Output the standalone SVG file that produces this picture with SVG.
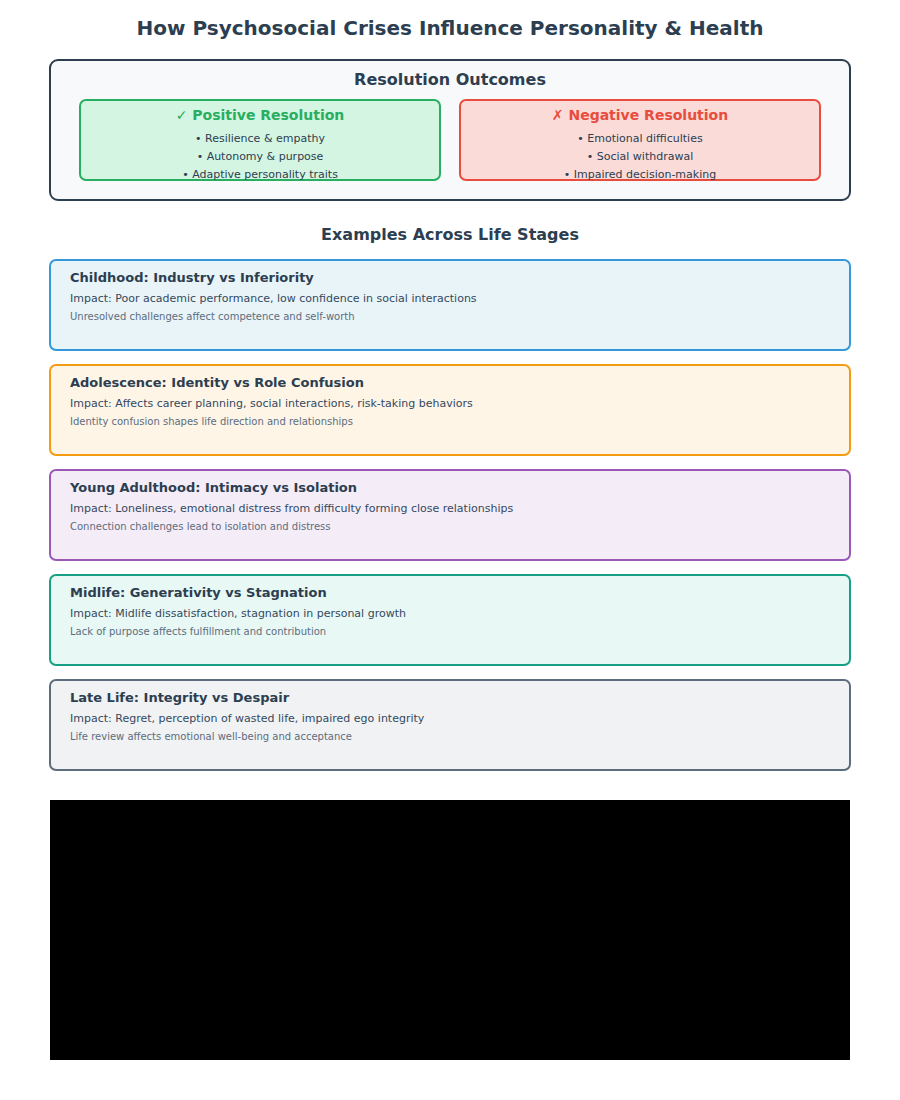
<svg xmlns="http://www.w3.org/2000/svg" width="900" height="1100" viewBox="0 0 900 1100">
<style>
text{font-family:"DejaVu Sans",sans-serif;fill:#2c3e50}
.h{font-weight:bold;font-size:16px;text-anchor:middle}
.b{font-size:11px;text-anchor:middle}
.t{font-weight:bold;font-size:13px}
.i{font-size:11px;fill:#34495e}
.n{font-size:10px;fill:#5d6d7e}
</style>
<rect width="900" height="1100" fill="#fff"/>
<text x="450" y="35" class="h" style="font-size:20px">How Psychosocial Crises Influence Personality &amp; Health</text>
<g id="outcomes">
<rect x="50" y="60" width="800" height="140" rx="8" fill="#f8f9fa" stroke="#2c3e50" stroke-width="2"/>
<text x="450" y="85" class="h">Resolution Outcomes</text>
</g>
<g id="positive">
<rect x="80" y="100" width="360" height="80" rx="6" fill="#d5f5e3" stroke="#27ae60" stroke-width="2"/>
<text x="260" y="120" class="h" style="font-size:14px;fill:#27ae60">✓ Positive Resolution</text>
<text x="260" y="142" class="b">• Resilience &amp; empathy</text>
<text x="260" y="160" class="b">• Autonomy &amp; purpose</text>
<text x="260" y="178" class="b">• Adaptive personality traits</text>
</g>
<g id="negative">
<rect x="460" y="100" width="360" height="80" rx="6" fill="#fadbd8" stroke="#e74c3c" stroke-width="2"/>
<text x="640" y="120" class="h" style="font-size:14px;fill:#e74c3c">✗ Negative Resolution</text>
<text x="640" y="142" class="b">• Emotional difficulties</text>
<text x="640" y="160" class="b">• Social withdrawal</text>
<text x="640" y="178" class="b">• Impaired decision-making</text>
</g>
<text x="450" y="240" class="h">Examples Across Life Stages</text>
<g id="childhood">
<rect x="50" y="260" width="800" height="90" rx="6" fill="#e8f4f8" stroke="#3498db" stroke-width="2"/>
<text x="70" y="282" class="t">Childhood: Industry vs Inferiority</text>
<text x="70" y="302" class="i">Impact: Poor academic performance, low confidence in social interactions</text>
<text x="70" y="320" class="n">Unresolved challenges affect competence and self-worth</text>
</g>
<g id="adolescence">
<rect x="50" y="365" width="800" height="90" rx="6" fill="#fef5e7" stroke="#f39c12" stroke-width="2"/>
<text x="70" y="387" class="t">Adolescence: Identity vs Role Confusion</text>
<text x="70" y="407" class="i">Impact: Affects career planning, social interactions, risk-taking behaviors</text>
<text x="70" y="425" class="n">Identity confusion shapes life direction and relationships</text>
</g>
<g id="young">
<rect x="50" y="470" width="800" height="90" rx="6" fill="#f4ecf7" stroke="#9b59b6" stroke-width="2"/>
<text x="70" y="492" class="t">Young Adulthood: Intimacy vs Isolation</text>
<text x="70" y="512" class="i">Impact: Loneliness, emotional distress from difficulty forming close relationships</text>
<text x="70" y="530" class="n">Connection challenges lead to isolation and distress</text>
</g>
<g id="midlife">
<rect x="50" y="575" width="800" height="90" rx="6" fill="#e8f8f5" stroke="#16a085" stroke-width="2"/>
<text x="70" y="597" class="t">Midlife: Generativity vs Stagnation</text>
<text x="70" y="617" class="i">Impact: Midlife dissatisfaction, stagnation in personal growth</text>
<text x="70" y="635" class="n">Lack of purpose affects fulfillment and contribution</text>
</g>
<g id="late">
<rect x="50" y="680" width="800" height="90" rx="6" fill="#f0f2f4" stroke="#5d6d7e" stroke-width="2"/>
<text x="70" y="702" class="t">Late Life: Integrity vs Despair</text>
<text x="70" y="722" class="i">Impact: Regret, perception of wasted life, impaired ego integrity</text>
<text x="70" y="740" class="n">Life review affects emotional well-being and acceptance</text>
</g>
<g id="connectors"></g>
<rect x="50" y="800" width="800" height="260" fill="#000"/>
</svg>
